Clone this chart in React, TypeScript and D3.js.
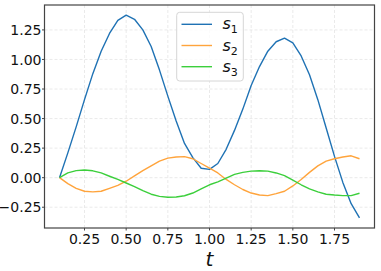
import { useEffect, useRef } from 'react';
import * as d3 from 'd3';

const tValues = [0.1, 0.15, 0.2, 0.25, 0.3, 0.35, 0.4, 0.45, 0.5, 0.55, 0.6, 0.65, 0.7, 0.75, 0.8, 0.85, 0.9, 0.95, 1.0,
  1.05, 1.1, 1.15, 1.2, 1.25, 1.3, 1.35, 1.4, 1.45, 1.5, 1.55, 1.6, 1.65, 1.7, 1.75, 1.8, 1.85, 1.9];

const s1 = [0, 0.21, 0.43, 0.66, 0.88, 1.07, 1.22, 1.33, 1.375, 1.34, 1.25, 1.11, 0.91, 0.69, 0.48, 0.29, 0.17, 0.08, 0.07,
  0.12, 0.24, 0.4, 0.58, 0.78, 0.94, 1.07, 1.15, 1.18, 1.14, 1.03, 0.87, 0.66, 0.42, 0.18, -0.04, -0.22, -0.34];

const s2 = [0, -0.05, -0.09, -0.115, -0.12, -0.115, -0.09, -0.065, -0.03, 0.015, 0.06, 0.1, 0.14, 0.165, 0.175, 0.178, 0.16, 0.12, 0.08,
  0.04, -0.015, -0.06, -0.1, -0.13, -0.147, -0.152, -0.135, -0.115, -0.07, -0.015, 0.045, 0.1, 0.14, 0.16, 0.175, 0.185, 0.16];

const s3 = [0, 0.04, 0.06, 0.065, 0.058, 0.04, 0.012, -0.015, -0.045, -0.075, -0.11, -0.14, -0.158, -0.166, -0.163, -0.153, -0.13, -0.095, -0.06,
  -0.035, -0.003, 0.028, 0.045, 0.055, 0.058, 0.055, 0.04, 0.018, -0.02, -0.06, -0.095, -0.12, -0.14, -0.147, -0.152, -0.152, -0.132];

const seriesNames = ['1', '2', '3'];
const seriesColors = ['#1f72b4', '#ffa43c', '#3ccf3c'];
const xTicks = [0.25, 0.5, 0.75, 1.0, 1.25, 1.5, 1.75];
const yTicks = [-0.25, 0.0, 0.25, 0.5, 0.75, 1.0, 1.25];

export default function App() {
  const svgRef = useRef<SVGSVGElement>(null);

  useEffect(() => {
    if (!svgRef.current) return;
    const svg = d3.select(svgRef.current);
    svg.selectAll('*').remove();

    const font = 'DejaVu Sans, sans-serif';
    const left = 44.5, right = 374.5, top = 5, bottom = 228;
    const allSeries = [s1, s2, s3];

    // matplotlib-style 5% margins
    const tMin = d3.min(tValues)!, tMax = d3.max(tValues)!;
    const vMin = d3.min(allSeries.flat())!, vMax = d3.max(allSeries.flat())!;
    const tPad = (tMax - tMin) * 0.05, vPad = (vMax - vMin) * 0.05;

    const x = d3.scaleLinear().domain([tMin - tPad, tMax + tPad]).range([left, right]);
    const y = d3.scaleLinear().domain([vMin - vPad, vMax + vPad]).range([bottom, top]);

    // grid
    const grid = svg.append('g').attr('stroke', '#e4e4e4').attr('stroke-width', 0.8).attr('stroke-dasharray', '3,2');
    xTicks.forEach(t => {
      grid.append('line').attr('x1', x(t)).attr('x2', x(t)).attr('y1', top).attr('y2', bottom);
    });
    yTicks.forEach(v => {
      grid.append('line').attr('x1', left).attr('x2', right).attr('y1', y(v)).attr('y2', y(v));
    });

    // lines
    const line = d3.line<number>()
      .x((_, i) => x(tValues[i]))
      .y(d => y(d));

    allSeries.forEach((s, i) => {
      svg.append('path')
        .datum(s)
        .attr('fill', 'none')
        .attr('stroke', seriesColors[i])
        .attr('stroke-width', 1.4)
        .attr('stroke-linejoin', 'round')
        .attr('d', line);
    });

    // spines
    svg.append('rect')
      .attr('x', left).attr('y', top)
      .attr('width', right - left).attr('height', bottom - top)
      .attr('fill', 'none').attr('stroke', '#444').attr('stroke-width', 1.2);

    // ticks + labels
    const xt = svg.append('g');
    xTicks.forEach(t => {
      xt.append('line').attr('x1', x(t)).attr('x2', x(t)).attr('y1', bottom).attr('y2', bottom + 2.5)
        .attr('stroke', '#444').attr('stroke-width', 1);
      xt.append('text').attr('x', x(t)).attr('y', 243.5)
        .attr('text-anchor', 'middle').attr('font-family', font).attr('font-size', 14).attr('fill', '#111')
        .text(d3.format('.2f')(t));
    });
    const yt = svg.append('g');
    yTicks.forEach(v => {
      yt.append('line').attr('x1', left - 2.5).attr('x2', left).attr('y1', y(v)).attr('y2', y(v))
        .attr('stroke', '#444').attr('stroke-width', 1);
      yt.append('text').attr('x', 41.5).attr('y', y(v)).attr('dy', '0.36em')
        .attr('text-anchor', 'end').attr('font-family', font).attr('font-size', 14).attr('fill', '#111')
        .text(d3.format('.2f')(v).replace('-', '-'));
    });

    // x label
    svg.append('text').attr('x', (left + right) / 2).attr('y', 266)
      .attr('text-anchor', 'middle').attr('font-family', font).attr('font-style', 'italic')
      .attr('font-size', 20).attr('fill', '#111').text('t');

    // legend
    const lg = svg.append('g');
    lg.append('rect').attr('x', 176.7).attr('y', 12.3).attr('width', 66.6).attr('height', 68.7)
      .attr('rx', 3).attr('fill', 'white').attr('fill-opacity', 0.8)
      .attr('stroke', '#d6d6d6').attr('stroke-width', 1);
    seriesNames.forEach((n, i) => {
      const yy = 24.3 + i * 21.2;
      lg.append('line').attr('x1', 181.5).attr('x2', 212).attr('y1', yy).attr('y2', yy)
        .attr('stroke', seriesColors[i]).attr('stroke-width', 1.4);
      const txt = lg.append('text').attr('x', 222.5).attr('y', yy + 5)
        .attr('font-family', font).attr('font-size', 16).attr('fill', '#111');
      txt.append('tspan').attr('font-style', 'italic').text('s');
      txt.append('tspan').attr('font-size', 11).attr('dy', 4).text(n);
    });
  }, []);

  return (
    <div style={{ position: 'fixed', left: 0, top: 0, width: 381, height: 271, background: 'white' }}>
      <svg ref={svgRef} width={381} height={271} style={{ display: 'block' }} />
    </div>
  );
}
